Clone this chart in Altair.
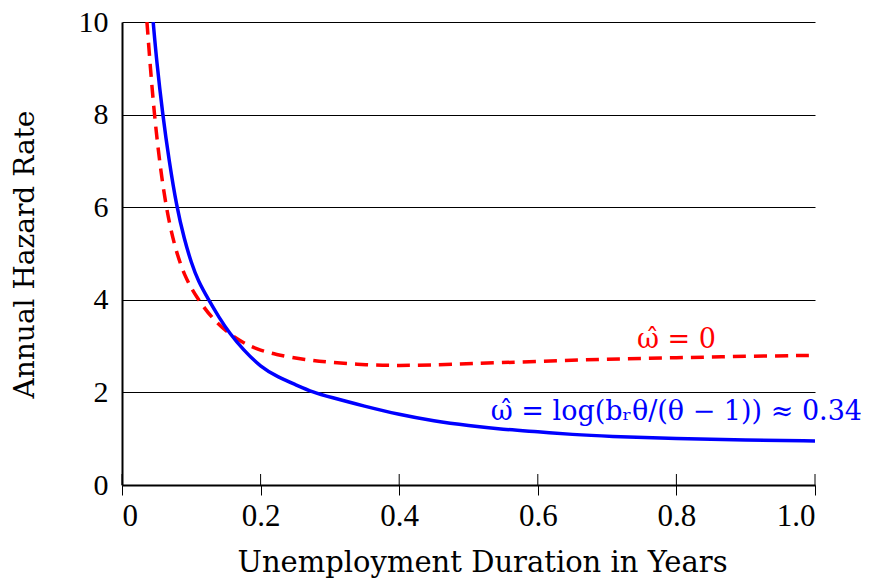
import altair as alt
import pandas as pd

# ---- data ----
blue_x = [0.045, 0.05, 0.0587, 0.068, 0.079, 0.09, 0.10, 0.11, 0.125, 0.14, 0.155,
          0.175, 0.2, 0.225, 0.25, 0.276, 0.3, 0.35, 0.4, 0.45, 0.5, 0.55, 0.6,
          0.65, 0.7, 0.8, 0.9, 1.0]
blue_y = [10.0, 9.15, 8.0, 7.0, 6.0, 5.3, 4.8, 4.4, 4.0, 3.62, 3.28,
          2.92, 2.55, 2.33, 2.17, 2.0, 1.9, 1.70, 1.52, 1.38, 1.28, 1.20, 1.15,
          1.09, 1.05, 1.0, 0.97, 0.95]

red_x = [0.036, 0.041, 0.0467, 0.054, 0.0635, 0.075, 0.09, 0.11, 0.13, 0.153,
         0.175, 0.194, 0.22, 0.266, 0.3, 0.353, 0.4, 0.45, 0.5, 0.6, 0.7, 0.8,
         0.9, 1.0]
red_y = [10.0, 9.0, 8.0, 7.0, 6.0, 5.2, 4.5, 4.0, 3.6, 3.28,
         3.07, 2.94, 2.82, 2.70, 2.65, 2.59, 2.58, 2.59, 2.62, 2.67, 2.72, 2.75,
         2.78, 2.80]

x_ticks = [0, 0.2, 0.4, 0.6, 0.8, 1.0]
y_ticks = [0, 2, 4, 6, 8, 10]

red_label = ["ω̂ = 0"]
red_label_pos = [0.80, 2.96]
blue_label = ["ω̂ = log(bᵣθ/(θ − 1)) ≈ 0.34"]
blue_label_pos = [0.80, 1.40]

TICK_FONT = "Liberation Serif"
FONT = "DejaVu Serif"

blue_df = pd.DataFrame({"x": blue_x, "y": blue_y})
red_df = pd.DataFrame({"x": red_x, "y": red_y})
tick_df = pd.DataFrame({"x": x_ticks})
red_lab_df = pd.DataFrame({"x": [red_label_pos[0]], "y": [red_label_pos[1]], "t": red_label})
blue_lab_df = pd.DataFrame({"x": [blue_label_pos[0]], "y": [blue_label_pos[1]], "t": blue_label})

xscale = alt.Scale(domain=[0, 1], nice=False, zero=False)
yscale = alt.Scale(domain=[0, 10], nice=False)

x_axis = alt.Axis(
    values=x_ticks,
    labelExpr="datum.value == 0 ? '0' : format(datum.value, '.1f')",
    title="Unemployment Duration in Years",
    grid=False,
    domainColor="black", domainWidth=2,
    tickColor="black", tickSize=10, tickWidth=1,
    labelFont=TICK_FONT, labelFontSize=31, labelColor="black", labelPadding=6,
    titleFont=FONT, titleFontSize=29, titleFontWeight="normal", titleColor="black",
    titleX=360, titleY=86, titleBaseline="alphabetic",
)
y_axis = alt.Axis(
    values=y_ticks,
    title="Annual Hazard Rate",
    grid=True, gridColor="black", gridWidth=1, gridOpacity=1,
    ticks=False,
    domainColor="black", domainWidth=2,
    labelFont=TICK_FONT, labelFontSize=30, labelColor="black", labelPadding=14,
    titleFont=FONT, titleFontSize=28, titleFontWeight="normal", titleColor="black",
    titleX=-89, titleY=232, titleBaseline="alphabetic", titleAngle=-90,
)

red = alt.Chart(red_df).mark_line(
    color="#ff0000", strokeWidth=3.5, strokeDash=[13, 8], clip=True,
    interpolate="basis",
).encode(
    x=alt.X("x:Q", scale=xscale, axis=x_axis),
    y=alt.Y("y:Q", scale=yscale, axis=y_axis),
)

blue = alt.Chart(blue_df).mark_line(
    color="#0000ff", strokeWidth=3.5, clip=True, interpolate="basis",
).encode(
    x=alt.X("x:Q", scale=xscale),
    y=alt.Y("y:Q", scale=yscale),
)

inner_ticks = alt.Chart(tick_df).mark_rule(color="black", strokeWidth=1).encode(
    x=alt.X("x:Q", scale=xscale),
    y=alt.value(463),
    y2=alt.value(452),
)

red_text = alt.Chart(red_lab_df).mark_text(
    font=FONT, fontSize=27, color="#ff0000", align="center", baseline="alphabetic"
).encode(
    x=alt.X("x:Q", scale=xscale),
    y=alt.Y("y:Q", scale=yscale),
    text="t:N",
)

blue_text = alt.Chart(blue_lab_df).mark_text(
    font=FONT, fontSize=27, color="#0000ff", align="center", baseline="alphabetic"
).encode(
    x=alt.X("x:Q", scale=xscale),
    y=alt.Y("y:Q", scale=yscale),
    text="t:N",
)

chart = alt.layer(red, blue, inner_ticks, red_text, blue_text).properties(
    width=693,
    height=463,
    autosize=alt.AutoSizeParams(type="none"),
    padding={"left": 114, "top": 14, "right": 46, "bottom": 94},
    background="white",
).configure_view(stroke="transparent")

chart.save("out.html", embed_options={"renderer": "svg", "actions": False})
